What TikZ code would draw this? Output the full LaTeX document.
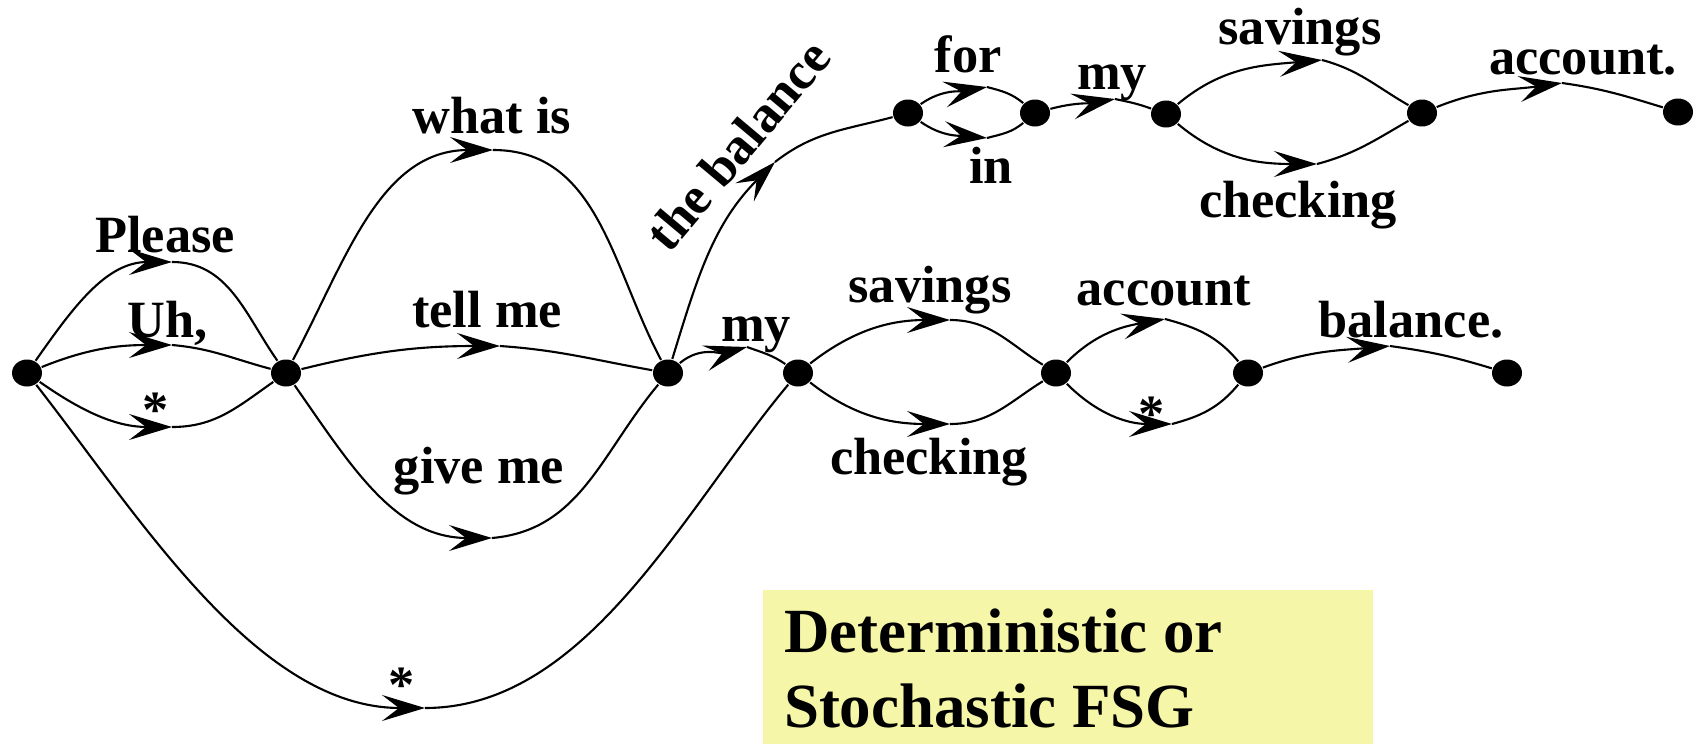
\documentclass[tikz,border=0pt]{standalone}
\usepackage{fontspec}
\setmainfont{Liberation Serif}
\usetikzlibrary{arrows.meta,shapes.geometric}
\definecolor{fsgyellow}{RGB}{246,246,168}

\begin{document}
\begin{tikzpicture}[x=0.1mm, y=-0.1mm, line width=0.6pt,
  state/.style={ellipse, fill, inner sep=0pt, minimum width=3mm, minimum height=2.7mm},
  word/.style={font=\fontsize{14.9}{17}\selectfont\bfseries, anchor=base, inner sep=0pt},
  hop/.style={-{Stealth[length=4.3mm, width=2.6mm, inset=1.7mm]}}]
  \useasboundingbox (0,0) rectangle (1698,744);

  % states, lower chain
  \node[state] (n0) at (27,373) {};
  \node[state] (n1) at (286,373) {};
  \node[state] (n2) at (668,373) {};
  \node[state] (n3) at (798,373) {};
  \node[state] (n4) at (1056,373) {};
  \node[state] (n5) at (1248,373) {};
  \node[state] (n6) at (1507,373) {};
  % states, upper chain
  \node[state] (u1) at (908,113) {};
  \node[state] (u2) at (1035,113) {};
  \node[state] (u3) at (1166,114) {};
  \node[state] (u4) at (1422,113) {};
  \node[state] (u5) at (1678,112) {};

  % arrow tips sit on the crest of each arc
  \coordinate (w-please) at (172,262);
  \coordinate (w-uh) at (172,345);
  \coordinate (w-skip1) at (172,427);
  \coordinate (w-skip2) at (425,708);
  \coordinate (w-what) at (493,150);
  \coordinate (w-tell) at (500,346);
  \coordinate (w-give) at (492,538);
  \coordinate (w-the) at (775,162);
  \coordinate (w-my1) at (747,347);
  \coordinate (w-sav1) at (950,320);
  \coordinate (w-chk1) at (950,424);
  \coordinate (w-acc1) at (1165,319);
  \coordinate (w-skip3) at (1172,424);
  \coordinate (w-bal) at (1390,346);
  \coordinate (w-for) at (987,87);
  \coordinate (w-in) at (987,138);
  \coordinate (w-my2) at (1115,99);
  \coordinate (w-sav2) at (1322,60);
  \coordinate (w-chk2) at (1317,164);
  \coordinate (w-acc2) at (1562,83);

  % first word
  \draw[hop] (n0) to[out=55,in=180] (w-please);
  \draw (w-please) to[out=0,in=125] (n1);
  \draw[hop] (n0) to[out=22,in=180] (w-uh);
  \draw (w-uh) to[out=-5,in=165] (n1);
  \draw[hop] (n0) to[out=-35,in=180] (w-skip1);
  \draw (w-skip1) to[out=0,in=-145] (n1);
  % long skip
  \draw[hop] (n0) to[out=-52,in=180,looseness=0.85] (w-skip2);
  \draw (w-skip2) to[out=0,in=-130,looseness=0.85] (n3);
  % verb
  \draw[hop] (n1) to[out=62,in=180] (w-what);
  \draw (w-what) to[out=0,in=118] (n2);
  \draw[hop] (n1) to[out=14,in=180] (w-tell);
  \draw (w-tell) to[out=-4,in=170] (n2);
  \draw[hop] (n1) to[out=-55,in=180] (w-give);
  \draw (w-give) to[out=5,in=-130] (n2);
  % branch up
  \draw[hop] (n2) to[out=73,in=225] (w-the);
  \draw (w-the) to[out=38,in=195] (u1);
  \draw[hop] (u1) to[out=35,in=190] (w-for);
  \draw (w-for) to[out=-15,in=140] (u2);
  \draw[hop] (u1) to[out=-35,in=175] (w-in);
  \draw (w-in) to[out=15,in=-140] (u2);
  \draw[hop] (u2) to[out=15,in=190] (w-my2);
  \draw (w-my2) to[out=-12,in=160] (u3);
  \draw[hop] (u3) to[out=40,in=185] (w-sav2);
  \draw (w-sav2) to[out=-15,in=150] (u4);
  \draw[hop] (u3) to[out=-40,in=180] (w-chk2);
  \draw (w-chk2) to[out=15,in=-150] (u4);
  \draw[hop] (u4) to[out=22,in=188] (w-acc2);
  \draw (w-acc2) to[out=-8,in=163] (u5);
  % branch on
  \draw[hop] (n2) to[out=40,in=195] (w-my1);
  \draw (w-my1) to[out=-20,in=145] (n3);
  \draw[hop] (n3) to[out=38,in=180] (w-sav1);
  \draw (w-sav1) to[out=0,in=148] (n4);
  \draw[hop] (n3) to[out=-38,in=180] (w-chk1);
  \draw (w-chk1) to[out=0,in=-148] (n4);
  \draw[hop] (n4) to[out=45,in=190] (w-acc1);
  \draw (w-acc1) to[out=-15,in=130] (n5);
  \draw[hop] (n4) to[out=-45,in=180] (w-skip3);
  \draw (w-skip3) to[out=15,in=-130] (n5);
  \draw[hop] (n5) to[out=20,in=185] (w-bal);
  \draw (w-bal) to[out=-8,in=163] (n6);

  % words
  \node[word] (l-please) at (165,252) {Please};
  \node[word] (l-uh) at (168,337) {Uh,};
  \node[word] (l-skip1) at (156,427) {*};
  \node[word] (l-skip2) at (402,702) {*};
  \node[word] (l-what) at (492,133) {what is};
  \node[word] (l-tell) at (487,327) {tell me};
  \node[word] (l-give) at (479,483) {give me};
  \node[word, anchor=center, rotate=50] (l-the) at (738,145) {the balance};
  \node[word] (l-my1) at (756,341) {my};
  \node[word] (l-sav1) at (930,302) {savings};
  \node[word] (l-chk1) at (929,474) {checking};
  \node[word] (l-acc1) at (1164,305) {account};
  \node[word] (l-skip3) at (1152,431) {*};
  \node[word] (l-bal) at (1411,337) {balance.};
  \node[word] (l-for) at (968,73) {for};
  \node[word] (l-in) at (991,183) {in};
  \node[word] (l-my2) at (1112,90) {my};
  \node[word] (l-sav2) at (1300,45) {savings};
  \node[word] (l-chk2) at (1298,217) {checking};
  \node[word] (l-acc2) at (1583,74) {account.};

  % caption
  \fill[fsgyellow] (763,590) rectangle (1373,744);
  \node[font=\fontsize{17.9}{21.3}\selectfont\bfseries, align=left, anchor=base west, inner sep=0pt]
    (fsg) at (783,727) {Deterministic or\\Stochastic FSG};
\end{tikzpicture}
\end{document}
